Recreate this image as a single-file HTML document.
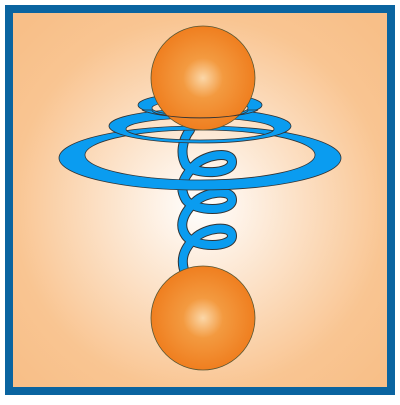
<!DOCTYPE html>
<html><head><meta charset="utf-8"><style>html,body{margin:0;padding:0;background:#fff}</style></head>
<body>
<svg width="400" height="400" viewBox="0 0 400 400">
<defs>
<radialGradient id="bg" cx="200" cy="205" r="250" gradientUnits="userSpaceOnUse">
<stop offset="0" stop-color="#ffffff"/><stop offset="0.75" stop-color="#f9c592"/><stop offset="1" stop-color="#f8bf88"/>
</radialGradient>
<radialGradient id="ball" cx="0.5" cy="0.5" r="0.55">
<stop offset="0" stop-color="#fbd7a8"/><stop offset="0.35" stop-color="#f39a40"/><stop offset="1" stop-color="#ef7a1a"/>
</radialGradient>
</defs>
<rect x="9" y="9" width="382" height="382" fill="url(#bg)" stroke="#0a64a0" stroke-width="8"/>
<g fill="none" stroke-linecap="round">
<path d="M190,130 C182,140 180,155 186,165 C195,175 232,175 232,162 C232,150 205,155 195,165 C180,180 180,190 186,200 C195,212 232,212 232,200 C232,188 205,192 195,202 C180,216 180,228 186,236 C195,248 232,248 232,236 C232,224 205,228 195,238 C182,250 180,262 186,275" stroke="#333" stroke-width="10"/>
<path d="M190,130 C182,140 180,155 186,165 C195,175 232,175 232,162 C232,150 205,155 195,165 C180,180 180,190 186,200 C195,212 232,212 232,200 C232,188 205,192 195,202 C180,216 180,228 186,236 C195,248 232,248 232,236 C232,224 205,228 195,238 C182,250 180,262 186,275" stroke="#0a9cf0" stroke-width="8"/>
</g>
<path fill-rule="evenodd" fill="#0a9cf0" stroke="#333" stroke-width="0.8"
 d="M59,158 a141,32 0 1,0 282,0 a141,32 0 1,0 -282,0 Z M85,155 a115,25 0 1,0 230,0 a115,25 0 1,0 -230,0 Z"/>
<path fill-rule="evenodd" fill="#0a9cf0" stroke="#333" stroke-width="0.8"
 d="M109,126 a91,17 0 1,0 182,0 a91,17 0 1,0 -182,0 Z M126,129 a74,11 0 1,0 148,0 a74,11 0 1,0 -148,0 Z"/>
<path fill-rule="evenodd" fill="#0a9cf0" stroke="#333" stroke-width="0.8"
 d="M138,105 a62,12 0 1,0 124,0 a62,12 0 1,0 -124,0 Z M152,108 a48,8 0 1,0 96,0 a48,8 0 1,0 -96,0 Z"/>
<circle cx="203" cy="78" r="52" fill="url(#ball)" stroke="#553" stroke-width="0.8"/>
<path fill="#0a9cf0" stroke="#333" stroke-width="0.8"
 d="M152,110 A48,8 0 0,0 248,110 L258,110 A62,12 0 0,1 142,110 Z"/>
<circle cx="203" cy="318" r="52" fill="url(#ball)" stroke="#553" stroke-width="0.8"/>
</svg>
</body></html>
